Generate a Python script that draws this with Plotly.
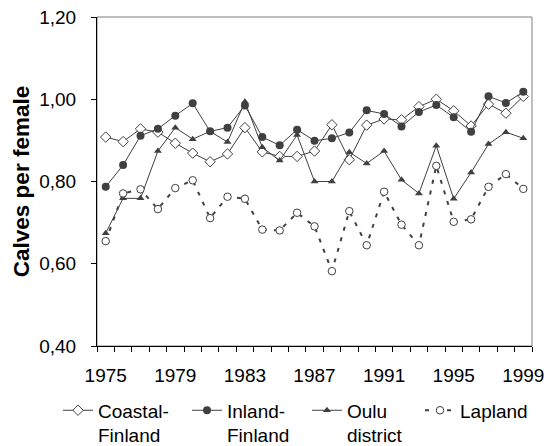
import plotly.graph_objects as go

years = list(range(1975, 2000))
coastal = [0.908, 0.897, 0.928, 0.920, 0.893, 0.869, 0.848, 0.867, 0.931, 0.872,
           0.861, 0.861, 0.874, 0.938, 0.853, 0.937, 0.952, 0.950, 0.982, 1.000,
           0.972, 0.935, 0.988, 0.966, 1.007]
inland = [0.787, 0.840, 0.911, 0.928, 0.960, 0.990, 0.922, 0.931, 0.985, 0.908,
          0.888, 0.926, 0.899, 0.905, 0.919, 0.973, 0.964, 0.934, 0.969, 0.986,
          0.956, 0.921, 1.007, 0.991, 1.018]
oulu = [0.674, 0.759, 0.759, 0.874, 0.931, 0.903, 0.922, 0.896, 0.994, 0.883,
        0.851, 0.913, 0.800, 0.800, 0.871, 0.844, 0.874, 0.804, 0.771, 0.887,
        0.758, 0.822, 0.891, 0.920, 0.905]
lapland = [0.655, 0.771, 0.781, 0.733, 0.784, 0.803, 0.711, 0.763, 0.758, 0.683,
           0.681, 0.724, 0.691, 0.582, 0.728, 0.645, 0.775, 0.695, 0.645, 0.838,
           0.702, 0.708, 0.787, 0.818, 0.782]
names = ["Coastal-<br>Finland", "Inland-<br>Finland", "Oulu<br>district", "Lapland"]
x_ticks = [1975, 1979, 1983, 1987, 1991, 1995, 1999]
y_ticks = [0.40, 0.60, 0.80, 1.00, 1.20]

LC = "#404040"
FONT = "Liberation Sans, Arial"
fig = go.Figure()
fig.add_trace(go.Scatter(x=years, y=coastal, name=names[0], mode="lines+markers",
                         legend="legend",
                         line=dict(color=LC, width=1),
                         marker=dict(symbol="diamond", size=8, color="white",
                                     line=dict(color=LC, width=1))))
fig.add_trace(go.Scatter(x=years, y=inland, name=names[1], mode="lines+markers",
                         legend="legend2",
                         line=dict(color=LC, width=1),
                         marker=dict(symbol="circle", size=8, color=LC)))
fig.add_trace(go.Scatter(x=years, y=oulu, name=names[2], mode="lines+markers",
                         legend="legend3",
                         line=dict(color=LC, width=1),
                         marker=dict(symbol="triangle-up", size=7, color=LC)))
fig.add_trace(go.Scatter(x=years, y=lapland, name=names[3], mode="lines+markers",
                         legend="legend4",
                         line=dict(color=LC, width=2, dash="4px,7px"),
                         marker=dict(symbol="circle", size=7.5, color="white",
                                     line=dict(color=LC, width=1))))

fig.add_shape(type="rect", xref="paper", yref="paper", x0=0, y0=0, x1=1, y1=1,
              line=dict(color="#808080", width=1), layer="below")

W = 435.0
def leg(px):
    return dict(orientation="h", x=(px - 97) / W, y=-0.138, xanchor="left", yanchor="top",
                valign="top", font=dict(size=19, family=FONT, color="black"),
                bgcolor="rgba(0,0,0,0)", borderwidth=0)

fig.update_layout(
    width=546, height=446,
    margin=dict(l=97, r=14, t=17, b=100, autoexpand=False),
    paper_bgcolor="white", plot_bgcolor="white",
    separators=",.",
    font=dict(family=FONT, size=19, color="black"),
    showlegend=True,
    legend=leg(58), legend2=leg(187), legend3=leg(307), legend4=leg(420),
)
fig.update_xaxes(range=[1974.5, 1999.5], tickvals=x_ticks, ticks="", showgrid=False,
                 showline=True, linecolor="black", linewidth=1, zeroline=False,
                 tickfont=dict(size=19), automargin=False, ticklabelstandoff=12,
                 minor=dict(ticks="outside", tick0=1974.5, dtick=1, ticklen=5,
                            tickcolor="black", showgrid=False))
fig.update_yaxes(range=[0.40, 1.20], tickvals=y_ticks, tickformat=".2f",
                 ticks="outside", ticklen=5, tickcolor="black", showgrid=False,
                 showline=True, linecolor="black", linewidth=1, zeroline=False,
                 tickfont=dict(size=19), automargin=False, ticklabelstandoff=11,
                 title=dict(text="<b>Calves per female</b>", font=dict(size=22.5), standoff=3))

fig.write_html("out.html", config={"displayModeBar": False},
               post_script="document.body.style.margin='0';document.body.style.overflow='hidden';")
